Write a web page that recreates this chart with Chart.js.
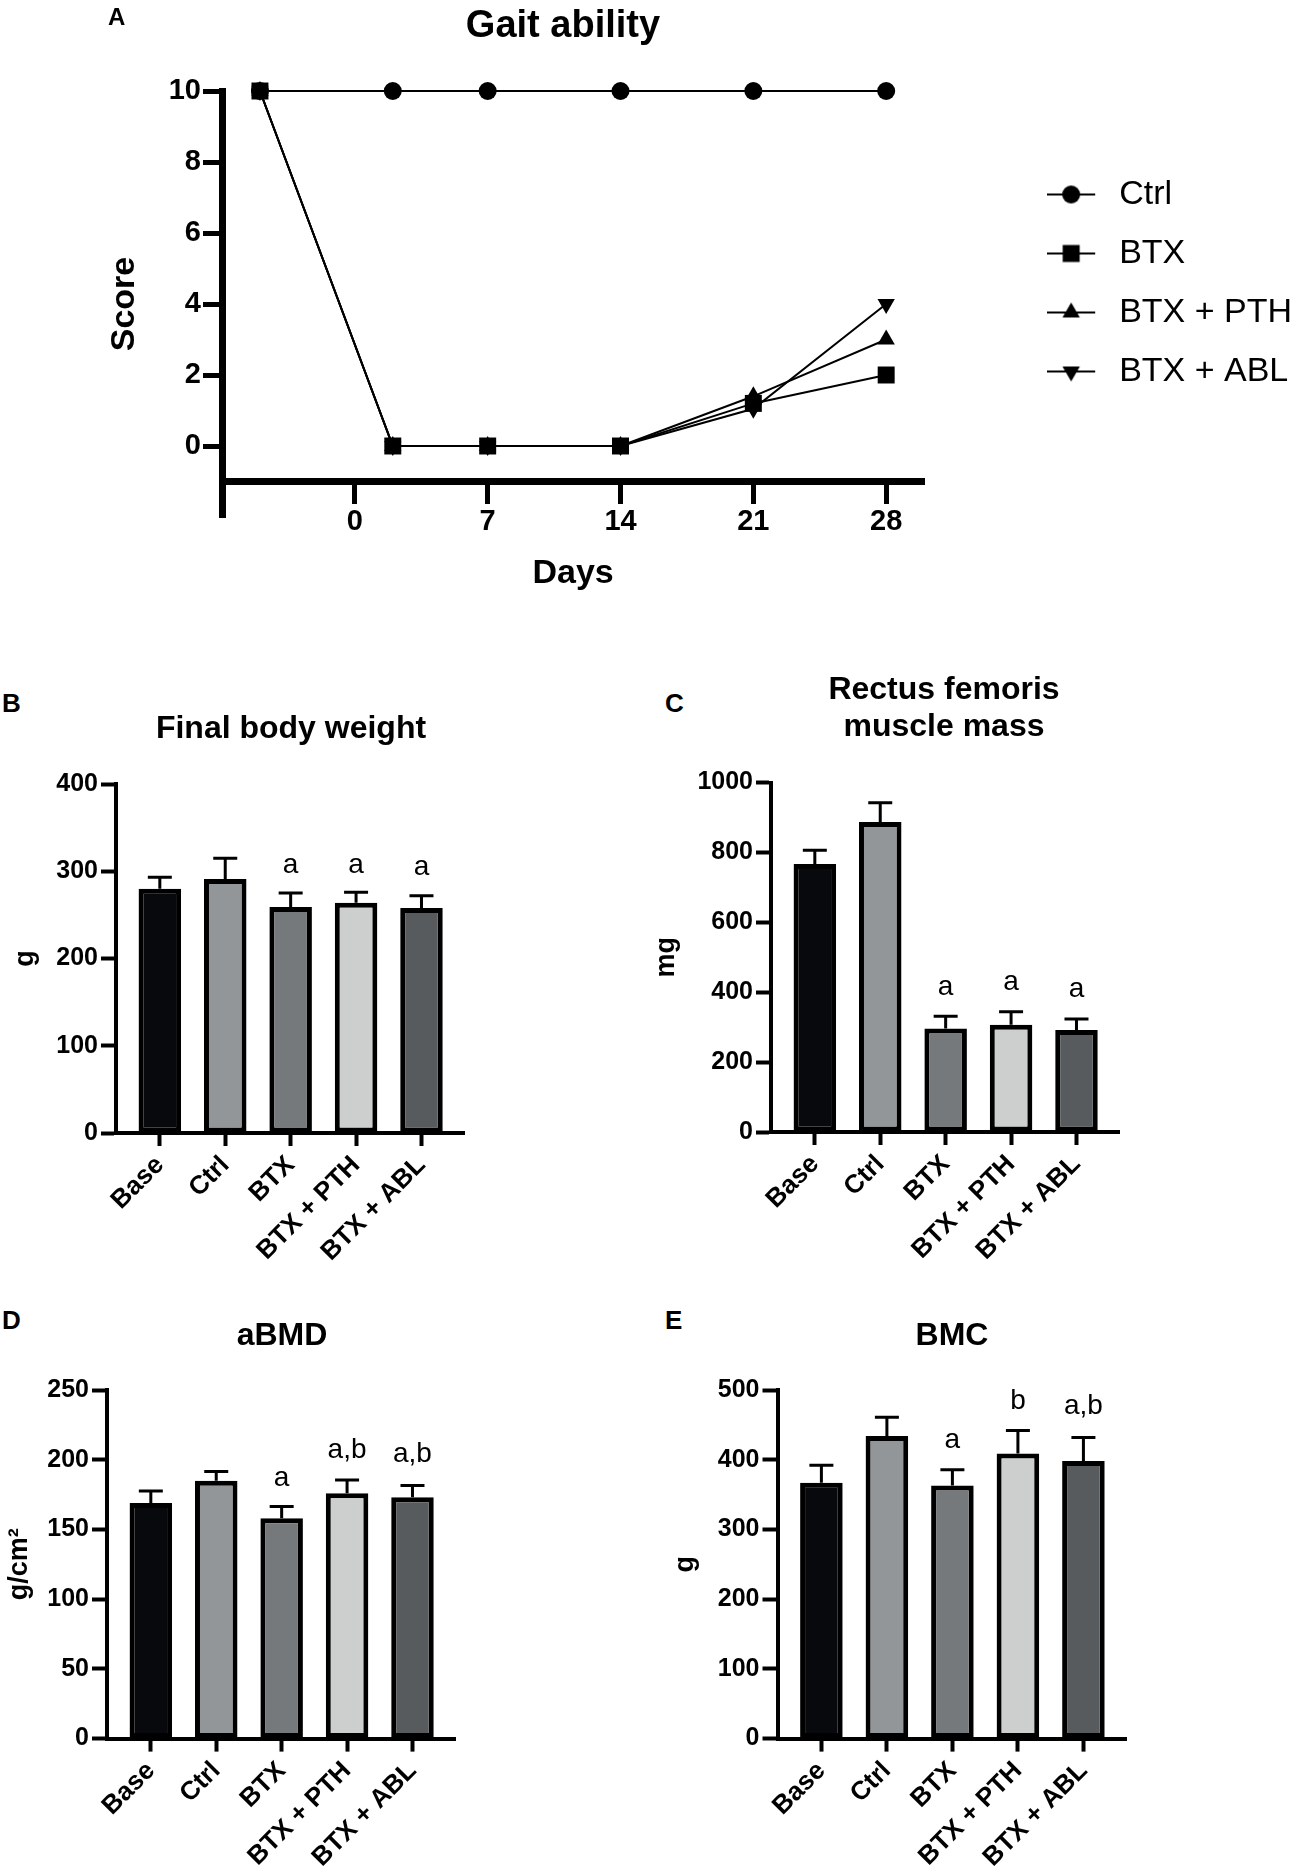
<!DOCTYPE html>
<html>
<head>
<meta charset="utf-8">
<script src="https://cdn.jsdelivr.net/npm/chart.js@4.4.1/dist/chart.umd.min.js"></script>
<style>
html,body{margin:0;padding:0;background:#fff;}
body{width:1296px;height:1870px;position:relative;overflow:hidden;font-family:"Liberation Sans",Arial,Helvetica,sans-serif;color:#000;}
canvas{position:absolute;}
.lbl{position:absolute;font-weight:bold;line-height:1;white-space:nowrap;}
.ttl{position:absolute;font-weight:bold;text-align:center;transform:translateX(-50%);white-space:nowrap;}
</style>
</head>
<body>
<canvas id="cA" style="left:0;top:0" width="1302" height="620"></canvas>
<canvas id="cB" style="left:0;top:740px" width="560" height="533"></canvas>
<canvas id="cC" style="left:640px;top:740px" width="560" height="532"></canvas>
<canvas id="cD" style="left:0;top:1340px" width="560" height="530"></canvas>
<canvas id="cE" style="left:640px;top:1340px" width="560" height="530"></canvas>

<div class="lbl" style="left:108px;top:5px;font-size:24px">A</div>
<div class="ttl" style="left:563px;top:5px;font-size:38px;line-height:38px">Gait ability</div>

<div class="lbl" style="left:2px;top:690px;font-size:26px">B</div>
<div class="ttl" style="left:291px;top:711px;font-size:32px;line-height:32px">Final body weight</div>

<div class="lbl" style="left:665px;top:690px;font-size:26px">C</div>
<div class="ttl" style="left:944px;top:670px;font-size:32px;line-height:37px">Rectus femoris<br>muscle mass</div>

<div class="lbl" style="left:2px;top:1307px;font-size:26px">D</div>
<div class="ttl" style="left:282px;top:1318px;font-size:32px;line-height:32px">aBMD</div>

<div class="lbl" style="left:665px;top:1307px;font-size:26px">E</div>
<div class="ttl" style="left:952px;top:1318px;font-size:32px;line-height:32px">BMC</div>

<script>
// ---------- Panel A: gait ability ----------
const days = [-5, 2, 7, 14, 21, 28];
const dayTicks = [0, 7, 14, 21, 28];
const scoreTicks = [0, 2, 4, 6, 8, 10];
const ctrlScore = [10, 10, 10, 10, 10, 10];
const btxScore  = [10, 0, 0, 0, 1.2, 2];
const pthScore  = [10, 0, 0, 0, 1.4, 3];
const ablScore  = [10, 0, 0, 0, 1.05, 4];
const gaitSeries = ['Ctrl', 'BTX', 'BTX + PTH', 'BTX + ABL'];

// ---------- Panels B-E: bar charts ----------
const groups = ['Base', 'Ctrl', 'BTX', 'BTX + PTH', 'BTX + ABL'];

const weightMean = [280, 291, 259, 264, 258];
const weightSD   = [13, 24, 16, 12, 14];
const weightMarks  = ['', '', 'a', 'a', 'a'];
const weightMarkAt = [0, 0, 298, 298.5, 296];

const muscleMean = [767, 887, 296, 307, 292];
const muscleSD   = [39, 55, 35, 37, 31];
const muscleMarks  = ['', '', 'a', 'a', 'a'];
const muscleMarkAt = [0, 0, 392, 407, 387];

const bmdMean = [169, 185, 158, 176, 173];
const bmdSD   = [8.5, 6.5, 8.5, 9.5, 8.5];
const bmdMarks  = ['', '', 'a', 'a,b', 'a,b'];
const bmdMarkAt = [0, 0, 181, 201.5, 198.5];

const bmcMean = [367, 434, 363, 409, 398];
const bmcSD   = [25, 27, 22.5, 33, 34];
const bmcMarks  = ['', '', 'a', 'b', 'a,b'];
const bmcMarkAt = [0, 0, 416.5, 472.5, 465];

const barColors = ['#08090d', '#939699', '#75797b', '#cdcfcf', '#585b5d'];

Chart.defaults.font.family = '"Liberation Sans", Arial, Helvetica, sans-serif';
Chart.defaults.color = '#000';

// legend symbols (line with marker)
function legendSymbol(kind) {
  const c = document.createElement('canvas');
  c.width = 55; c.height = 34;
  const g = c.getContext('2d');
  g.strokeStyle = '#000'; g.fillStyle = '#000'; g.lineWidth = 2;
  g.beginPath(); g.moveTo(0, 17); g.lineTo(48, 17); g.stroke();
  const cx = 24, cy = 17;
  g.beginPath();
  if (kind === 'circle') { g.arc(cx, cy, 9, 0, Math.PI * 2); }
  else if (kind === 'rect') { g.rect(cx - 8.5, cy - 8.5, 17, 17); }
  else if (kind === 'up') { g.moveTo(cx, cy - 10); g.lineTo(cx + 8.7, cy + 5); g.lineTo(cx - 8.7, cy + 5); g.closePath(); }
  else { g.moveTo(cx, cy + 10); g.lineTo(cx + 8.7, cy - 5); g.lineTo(cx - 8.7, cy - 5); g.closePath(); }
  g.fill();
  return c;
}
const legendIcons = [legendSymbol('circle'), legendSymbol('rect'), legendSymbol('up'), legendSymbol('down')];

function pts(vals) { return days.map((d, i) => ({x: d, y: vals[i]})); }
function lineSet(label, vals, style, radius, rotation, order) {
  return {
    label, data: pts(vals), xAxisID: 'x', yAxisID: 'y', clip: false,
    borderColor: '#000', backgroundColor: '#000', borderWidth: 2,
    pointStyle: style, pointRadius: radius, pointRotation: rotation,
    pointBorderWidth: 0, pointBackgroundColor: '#000', order
  };
}

new Chart(document.getElementById('cA'), {
  type: 'line',
  data: {
    datasets: [
      lineSet(gaitSeries[0], ctrlScore, 'circle', 9, 0, 4),
      lineSet(gaitSeries[1], btxScore, 'rect', 12, 0, 1),
      lineSet(gaitSeries[2], pthScore, 'triangle', 10, 0, 2),
      lineSet(gaitSeries[3], ablScore, 'triangle', 10, 180, 3)
    ]
  },
  options: {
    responsive: false, animation: false, events: [],
    layout: {padding: {top: 49, bottom: 103, left: 0, right: 0}},
    plugins: {
      tooltip: {enabled: false},
      legend: {
        position: 'right', align: 'center', maxWidth: 420,
        labels: {
          usePointStyle: true, pointStyleWidth: 55, padding: 25,
          font: {size: 34}, color: '#000',
          generateLabels: chart => chart.data.datasets.map((d, i) => ({
            text: d.label, pointStyle: legendIcons[i], fillStyle: '#000',
            strokeStyle: '#000', lineWidth: 0, hidden: false, datasetIndex: i, fontColor: '#000'
          }))
        }
      }
    },
    scales: {
      x: {
        type: 'linear', position: {y: -1}, min: -7, max: 30,
        afterBuildTicks: s => { s.ticks = dayTicks.map(v => ({value: v})); },
        grid: {drawOnChartArea: false, drawTicks: true, tickLength: 19, tickWidth: 5, tickColor: '#000', color: '#000'},
        border: {display: true, color: '#000', width: 7},
        ticks: {font: {size: 29, weight: 'bold'}, color: '#000', padding: 4, maxRotation: 0, autoSkip: false},
        title: {display: true, text: 'Days', font: {size: 34, weight: 'bold'}, color: '#000', padding: {top: 10, bottom: 0}}
      },
      y: {
        type: 'linear', position: 'left', min: -2, max: 10,
        afterBuildTicks: s => { s.ticks = scoreTicks.map(v => ({value: v})); },
        afterFit: s => { s.width = 222; },
        grid: {drawOnChartArea: false, drawTicks: true, tickLength: 19, tickWidth: 5, tickColor: '#000', color: '#000'},
        border: {display: true, color: '#000', width: 7},
        ticks: {font: {size: 29, weight: 'bold'}, color: '#000', padding: 2},
        title: {display: true, text: 'Score', font: {size: 34, weight: 'bold'}, color: '#000', padding: {top: 104, bottom: 0}}
      },
      xTop: {
        type: 'linear', position: 'top', display: true,
        grid: {display: false, drawTicks: false}, border: {display: false}, ticks: {display: false},
        afterFit: s => { s.height = 42; }
      },
      yRight: {
        type: 'linear', position: 'right', display: true,
        grid: {display: false, drawTicks: false}, border: {display: false}, ticks: {display: false},
        afterFit: s => { s.width = 98; }
      }
    }
  }
});

function errorBars(sd, marks, markAt) {
  return {
    id: 'errorBars',
    afterDatasetsDraw(chart) {
      const {ctx} = chart;
      const x = chart.scales.x, y = chart.scales.y;
      const ds = chart.data.datasets[0];
      ctx.save();
      ctx.strokeStyle = '#000';
      ctx.lineWidth = 3;
      ds.data.forEach((p, i) => {
        const px = x.getPixelForValue(p.x);
        const y0 = y.getPixelForValue(p.y);
        const y1 = y.getPixelForValue(p.y + sd[i]);
        ctx.beginPath();
        ctx.moveTo(px, y0); ctx.lineTo(px, y1);
        ctx.moveTo(px - 12, y1); ctx.lineTo(px + 12, y1);
        ctx.stroke();
        if (marks[i]) {
          ctx.fillStyle = '#000';
          ctx.font = '28px "Liberation Sans", Arial, sans-serif';
          ctx.textAlign = 'center';
          ctx.textBaseline = 'alphabetic';
          ctx.fillText(marks[i], px, y.getPixelForValue(markAt[i]));
        }
      });
      ctx.restore();
    }
  };
}

function barChart(id, mean, sd, marks, markAt, yMax, yStep, yTitle, geo) {
  return new Chart(document.getElementById(id), {
    type: 'bar',
    data: {
      datasets: [{
        data: mean.map((v, i) => ({x: i, y: v})),
        backgroundColor: barColors, borderColor: '#000', borderWidth: 5,
        borderSkipped: false, barPercentage: 0.65, categoryPercentage: 1
      }]
    },
    options: {
      responsive: false, animation: false, events: [],
      layout: {padding: {top: geo.top, right: geo.right, left: 0, bottom: 0}},
      plugins: {legend: {display: false}, tooltip: {enabled: false}},
      scales: {
        x: {
          type: 'linear', min: -0.67, max: 4.65, offset: false,
          afterBuildTicks: s => { s.ticks = groups.map((g, i) => ({value: i})); },
          afterFit: s => { s.height = geo.xh; },
          grid: {offset: false, drawOnChartArea: false, drawTicks: true, tickLength: 13, tickWidth: 4, tickColor: '#000', color: '#000'},
          border: {display: true, color: '#000', width: 4},
          ticks: {callback: v => groups[v], autoSkip: false, maxRotation: 45, minRotation: 45, padding: 4,
                  font: {size: 26, weight: 'bold'}, color: '#000'}
        },
        y: {
          type: 'linear', min: 0, max: yMax,
          afterFit: s => { s.width = geo.yw; },
          grid: {drawOnChartArea: false, drawTicks: true, tickLength: 15, tickWidth: 4, tickColor: '#000', color: '#000'},
          border: {display: true, color: '#000', width: 4},
          ticks: {stepSize: yStep, padding: 3, font: {size: 25, weight: 'bold'}, color: '#000', callback: v => String(v)},
          title: {display: true, text: yTitle, font: {size: 27, weight: 'bold'}, color: '#000', padding: {top: geo.tp, bottom: 0}}
        }
      }
    },
    plugins: [errorBars(sd, marks, markAt)]
  });
}

barChart('cB', weightMean, weightSD, weightMarks, weightMarkAt, 400, 100, 'g',
  {top: 44, right: 96, yw: 116, xh: 140, tp: 9});
barChart('cC', muscleMean, muscleSD, muscleMarks, muscleMarkAt, 1000, 200, 'mg',
  {top: 42.5, right: 81, yw: 131, xh: 140, tp: 10});
barChart('cD', bmdMean, bmdSD, bmdMarks, bmdMarkAt, 250, 50, 'g/cm²',
  {top: 50, right: 105, yw: 107, xh: 131.4, tp: 3});
barChart('cE', bmcMean, bmcSD, bmcMarks, bmcMarkAt, 500, 100, 'g',
  {top: 50, right: 74, yw: 137.5, xh: 131.4, tp: 29});
</script>
</body>
</html>
